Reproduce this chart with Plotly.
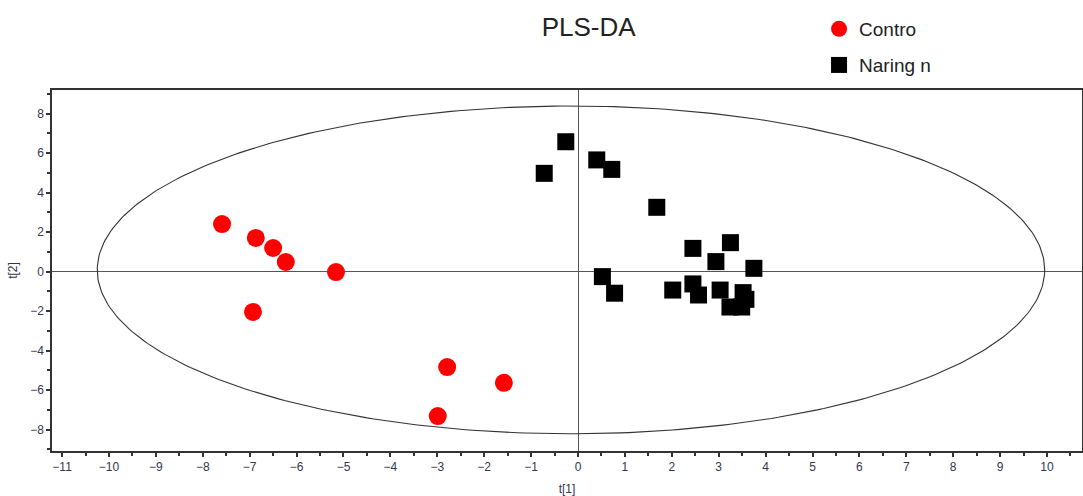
import numpy as np
import plotly.graph_objects as go

# Control group scores
control_t1 = [-7.59, -6.87, -6.50, -6.23, -5.16, -6.93, -2.79, -1.58, -2.99]
control_t2 = [2.41, 1.71, 1.20, 0.49, -0.02, -2.04, -4.83, -5.63, -7.31]

# Naringin group scores
nar_t1 = [-0.26, -0.72, 0.40, 0.72, 1.68, 2.45, 3.25, 2.94, 3.75, 0.52, 0.78,
          2.02, 2.45, 2.57, 3.03, 3.52, 3.24, 3.49, 3.58]
nar_t2 = [6.58, 4.98, 5.66, 5.18, 3.26, 1.18, 1.47, 0.51, 0.17, -0.25, -1.09,
          -0.93, -0.62, -1.18, -0.93, -1.06, -1.79, -1.79, -1.40]

# Hotelling T2 ellipse (as drawn in the picture)
ELLIPSE_CX = -0.15
ELLIPSE_CY = 0.09
ELLIPSE_A = 10.1
ELLIPSE_B = 8.3

x_ticks = list(range(-11, 11))
y_ticks = [-8, -6, -4, -2, 0, 2, 4, 6, 8]

theta = np.linspace(0, 2 * np.pi, 400)
ex = ELLIPSE_CX + ELLIPSE_A * np.cos(theta)
ey = ELLIPSE_CY + ELLIPSE_B * np.sin(theta)

FONT = "Liberation Sans, Arial, sans-serif"
TICK_COLOR = "#35354f"

fig = go.Figure()
fig.add_trace(go.Scatter(x=ex, y=ey, mode="lines",
                         line=dict(color="#333333", width=1.1),
                         showlegend=False, hoverinfo="skip"))
fig.add_trace(go.Scatter(x=control_t1, y=control_t2, mode="markers", name="Contro",
                         marker=dict(symbol="circle", size=18, color="#ff0000"),
                         legend="legend"))
fig.add_trace(go.Scatter(x=nar_t1, y=nar_t2, mode="markers", name="Naring n",
                         marker=dict(symbol="square", size=17, color="#000000"),
                         legend="legend2"))

axis_common = dict(
    showline=True, linecolor="#333333", linewidth=1.5, mirror=True,
    showgrid=False, zeroline=True, zerolinecolor="#555555", zerolinewidth=1,
    ticks="outside", ticklen=4, tickcolor="#333333", tickwidth=1.5,
    tickfont=dict(family=FONT, size=12, color=TICK_COLOR),
    automargin=False,
)

fig.update_layout(
    width=1083, height=496,
    margin=dict(l=52, r=1, t=90, b=45),
    paper_bgcolor="white", plot_bgcolor="white",
    font=dict(family=FONT, color="#222222"),
    title=dict(text="PLS-DA", x=0.521, xanchor="center", xref="paper",
               y=1 - 27 / 496, yanchor="middle", yref="container",
               font=dict(family=FONT, size=26, color="#222222")),
    xaxis=dict(range=[-11.215, 10.746], tickvals=x_ticks,
               minor=dict(dtick=0.5, ticks="outside", ticklen=3, tickcolor="#333333", tickwidth=1.5),
               title=dict(text="t[1]", font=dict(family=FONT, size=12, color=TICK_COLOR), standoff=12),
               **axis_common),
    yaxis=dict(range=[-9.08, 9.2], tickvals=y_ticks,
               minor=dict(dtick=1, ticks="outside", ticklen=3, tickcolor="#333333", tickwidth=1.5),
               title=dict(text="t[2]", font=dict(family=FONT, size=12, color=TICK_COLOR), standoff=10),
               **axis_common),
    legend=dict(x=0.7447, y=1.169, xanchor="left", yanchor="middle",
                font=dict(family=FONT, size=19, color="#222222"), bgcolor="rgba(0,0,0,0)"),
    legend2=dict(x=0.7447, y=1.069, xanchor="left", yanchor="middle",
                 font=dict(family=FONT, size=19, color="#222222"), bgcolor="rgba(0,0,0,0)"),
)

fig.write_html("out.html")
